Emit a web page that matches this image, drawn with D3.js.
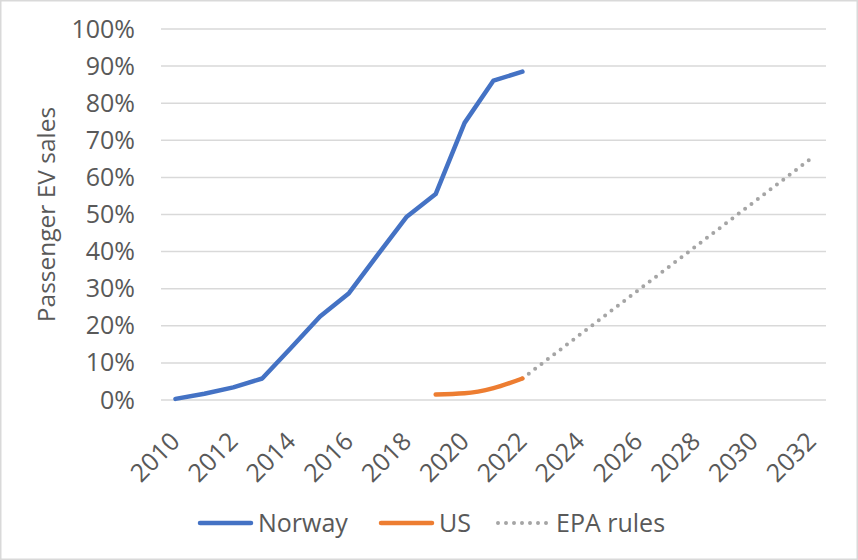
<!DOCTYPE html>
<html>
<head>
<meta charset="utf-8">
<script src="https://cdn.jsdelivr.net/npm/d3@7"></script>
<style>
  body { margin: 0; background: #fff; }
  text { font-family: "Open Sans", sans-serif; fill: #595959; }
</style>
</head>
<body>
<svg id="chart"></svg>
<script>
const width = 858, height = 560;
const margin = { top: 29, right: 32, bottom: 160, left: 161 };
const plotWidth = width - margin.left - margin.right;
const plotHeight = height - margin.top - margin.bottom;
const fontSize = 25;

// Categories (years on x axis)
const years = d3.range(2010, 2033).map(String);
const yearLabels = ["2010", "2012", "2014", "2016", "2018", "2020", "2022", "2024", "2026", "2028", "2030", "2032"];
const yTicks = [0, 0.1, 0.2, 0.3, 0.4, 0.5, 0.6, 0.7, 0.8, 0.9, 1.0];

// Series values (share of passenger EV sales)
const norwayYears = ["2010", "2011", "2012", "2013", "2014", "2015", "2016", "2017", "2018", "2019", "2020", "2021", "2022"];
const norwayValues = [0.003, 0.017, 0.034, 0.058, 0.141, 0.225, 0.288, 0.392, 0.494, 0.555, 0.747, 0.861, 0.885];

const usYears = ["2019", "2020", "2021", "2022"];
const usValues = [0.015, 0.018, 0.032, 0.058];

const epaYears = ["2022", "2032"];
const epaValues = [0.058, 0.652];

const zip = (xs, vs) => xs.map((x, i) => ({ year: x, value: vs[i] }));

const svg = d3.select("#chart")
    .attr("width", width)
    .attr("height", height);

// Outer chart border
svg.append("rect")
    .attr("x", 0.75).attr("y", 0.75)
    .attr("width", width - 1.5).attr("height", height - 1.5)
    .attr("fill", "#fff")
    .attr("stroke", "#d9d9d9")
    .attr("stroke-width", 1.5);

const g = svg.append("g")
    .attr("transform", `translate(${margin.left},${margin.top})`);

const xScale = d3.scaleBand().domain(years).range([0, plotWidth]);
const yScale = d3.scaleLinear().domain([0, 1]).range([plotHeight, 0]);
const cx = d => xScale(d) + xScale.bandwidth() / 2;

// Gridlines
g.append("g")
    .selectAll("line")
    .data(yTicks)
    .enter()
    .append("line")
    .attr("x1", 0)
    .attr("x2", plotWidth)
    .attr("y1", d => yScale(d))
    .attr("y2", d => yScale(d))
    .attr("stroke", "#d9d9d9")
    .attr("stroke-width", 1.5);

// Y axis labels
const yAxis = g.append("g")
    .call(d3.axisLeft(yScale).tickValues(yTicks).tickFormat(d3.format(".0%")).tickSize(0).tickPadding(26));
yAxis.select(".domain").remove();
yAxis.selectAll("text")
    .attr("font-size", fontSize)
    .attr("font-family", "Open Sans")
    .attr("fill", "#595959");

// X axis labels, rotated
const xAxis = g.append("g")
    .attr("transform", `translate(0,${plotHeight})`)
    .call(d3.axisBottom(xScale).tickValues(yearLabels).tickSize(0));
xAxis.select(".domain").remove();
xAxis.selectAll("text")
    .attr("font-size", fontSize)
    .attr("font-family", "Open Sans")
    .attr("fill", "#595959")
    .attr("text-anchor", "end")
    .attr("y", 0)
    .attr("dy", 0)
    .attr("transform", "translate(6,43) rotate(-45)");

// Y axis title
svg.append("text")
    .attr("transform", `translate(55,${margin.top + plotHeight / 2}) rotate(-90)`)
    .attr("text-anchor", "middle")
    .attr("font-size", 24.5)
    .text("Passenger EV sales");

const line = d3.line()
    .x(d => cx(d.year))
    .y(d => yScale(d.value));

g.append("path")
    .datum(zip(epaYears, epaValues))
    .attr("fill", "none")
    .attr("stroke", "#a5a5a5")
    .attr("stroke-width", 4)
    .attr("stroke-linecap", "round")
    .attr("stroke-dasharray", "0,8")
    .attr("d", line);

g.append("path")
    .datum(zip(norwayYears, norwayValues))
    .attr("fill", "none")
    .attr("stroke", "#4472c4")
    .attr("stroke-width", 4.5)
    .attr("stroke-linecap", "round")
    .attr("stroke-linejoin", "round")
    .attr("d", line);

g.append("path")
    .datum(zip(usYears, usValues))
    .attr("fill", "none")
    .attr("stroke", "#ed7d31")
    .attr("stroke-width", 4.5)
    .attr("stroke-linecap", "round")
    .attr("stroke-linejoin", "round")
    .attr("d", line.curve(d3.curveMonotoneX));

// Legend
const legendItems = [
    { name: "Norway", color: "#4472c4", x: 198, dash: null },
    { name: "US", color: "#ed7d31", x: 379, dash: null },
    { name: "EPA rules", color: "#a5a5a5", x: 496, dash: "0,8" }
];
const legend = svg.append("g").attr("transform", "translate(0,523)");
legendItems.forEach(item => {
    legend.append("line")
        .attr("x1", item.x + 2)
        .attr("x2", item.x + 53)
        .attr("y1", 0)
        .attr("y2", 0)
        .attr("stroke", item.color)
        .attr("stroke-width", item.dash ? 4 : 4.5)
        .attr("stroke-linecap", "round")
        .attr("stroke-dasharray", item.dash);
    legend.append("text")
        .attr("x", item.x + 60)
        .attr("y", 0)
        .attr("dy", "0.35em")
        .attr("font-size", fontSize)
        .text(item.name);
});
</script>
</body>
</html>
